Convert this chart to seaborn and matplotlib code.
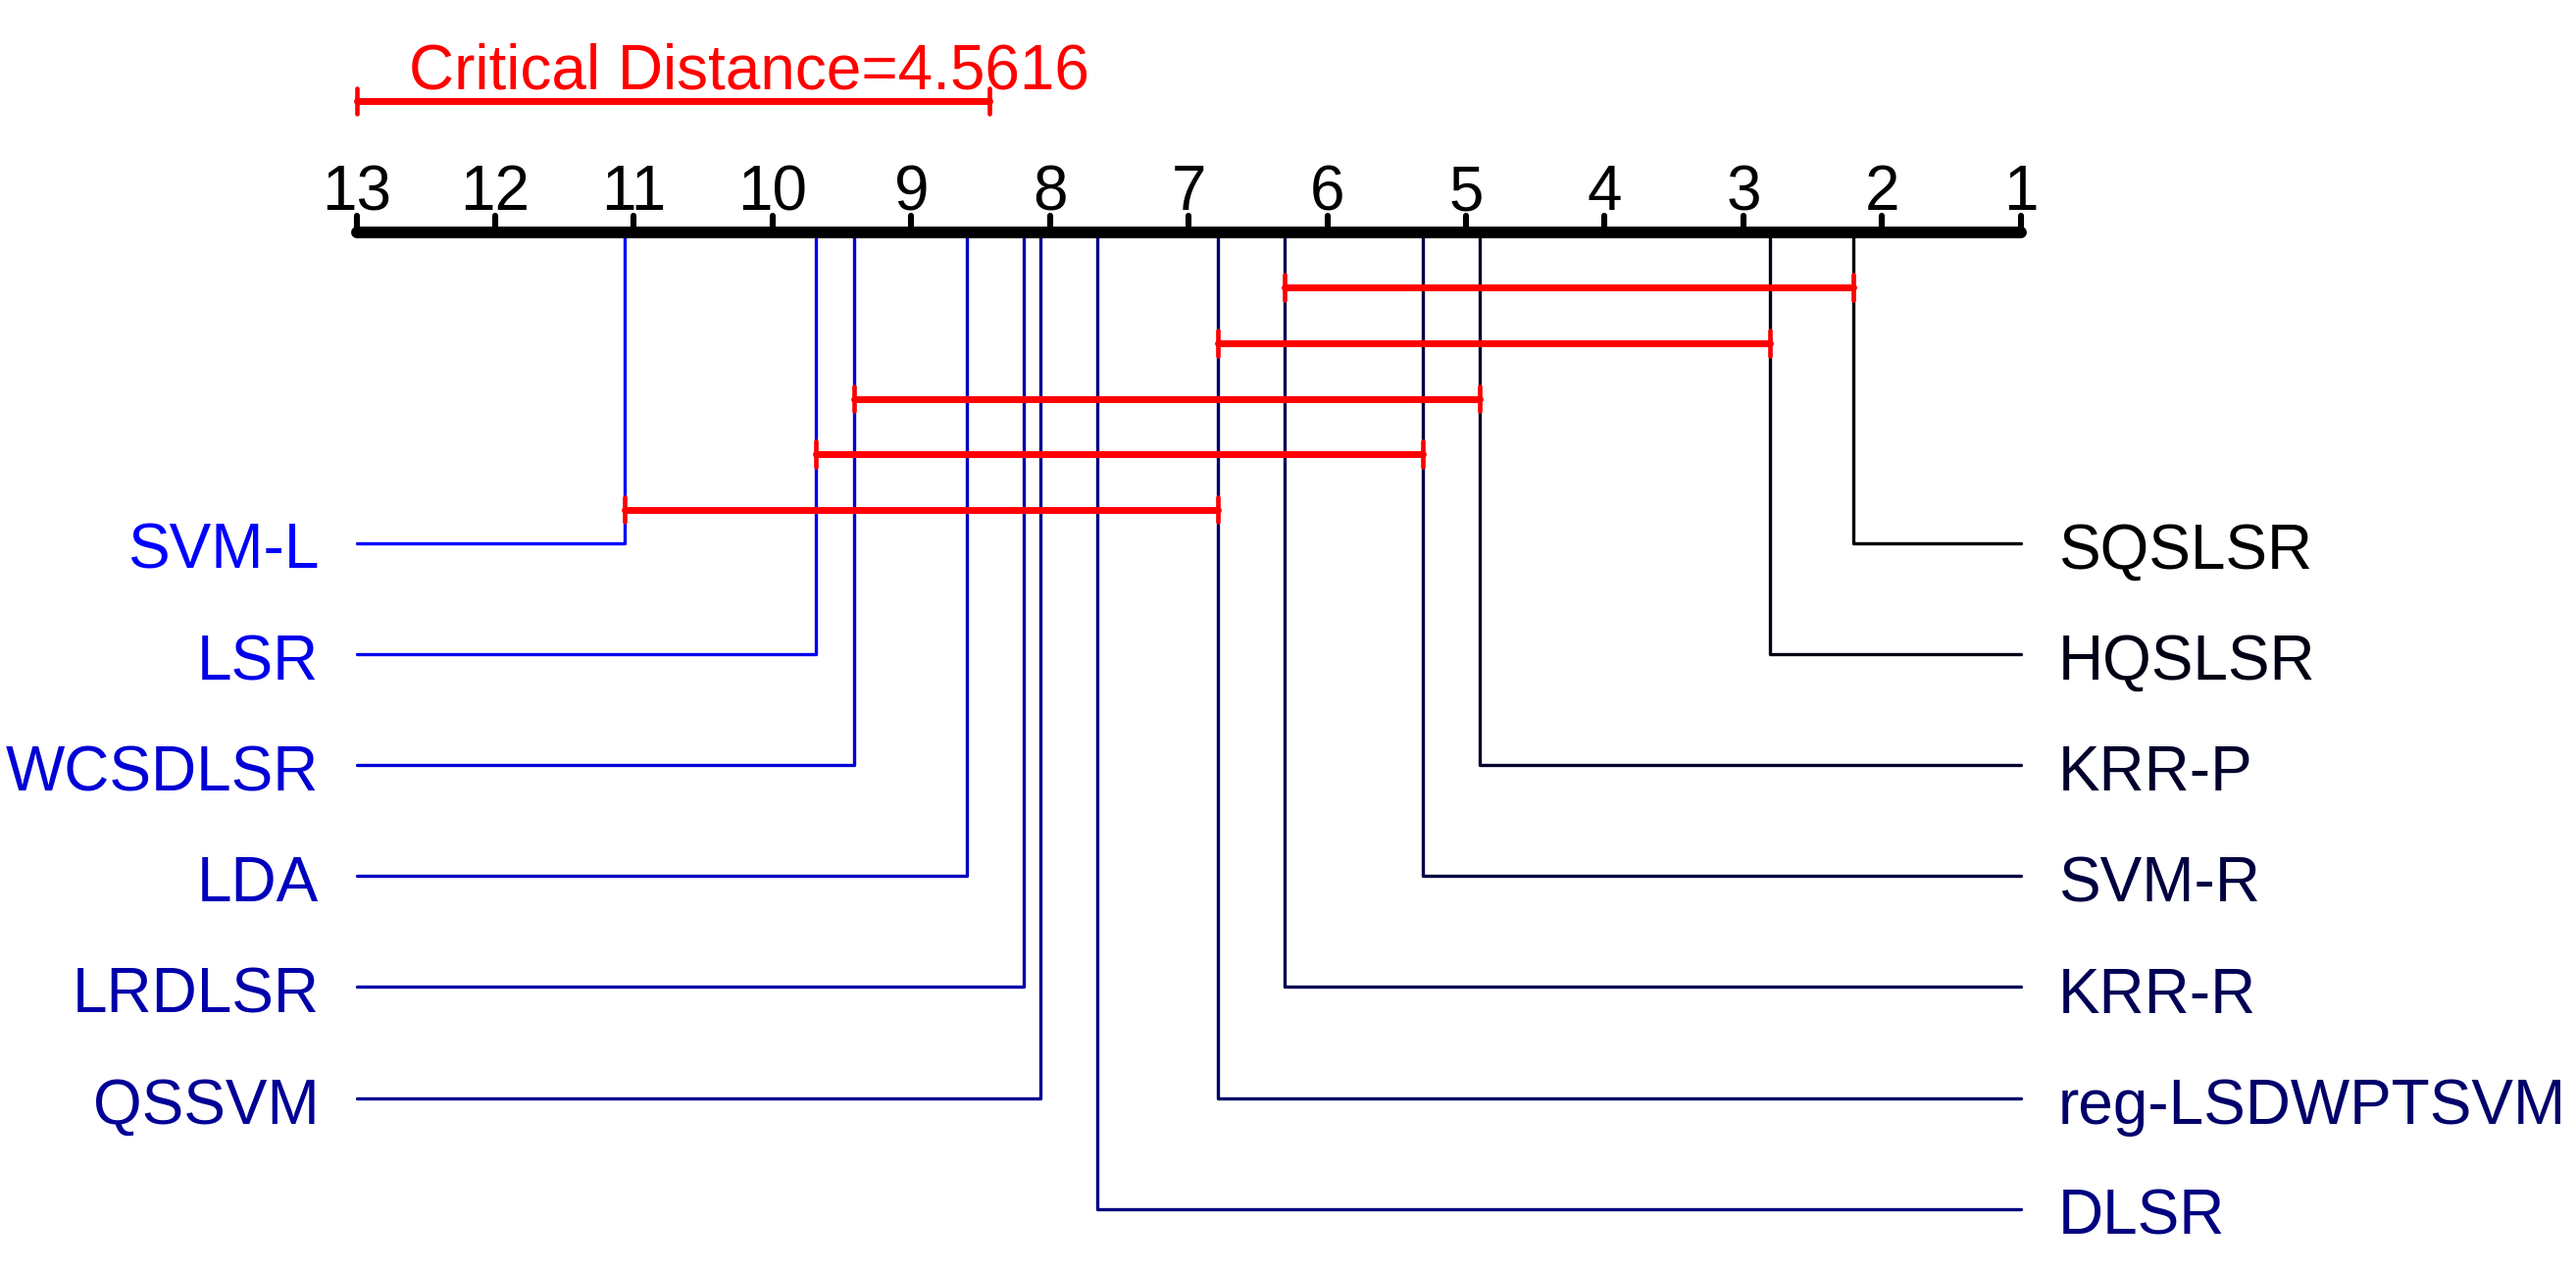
import numpy as np
import pandas as pd
import matplotlib
matplotlib.use("Agg")
import matplotlib.pyplot as plt
from matplotlib import font_manager
import seaborn as sns

# ---------------- data ----------------
methods = ["SQSLSR", "HQSLSR", "KRR-P", "SVM-R", "KRR-R", "reg-LSDWPTSVM", "DLSR",
           "QSSVM", "LRDLSR", "LDA", "WCSDLSR", "LSR", "SVM-L"]
avg_ranks = [2.21, 2.81, 4.90, 5.31, 6.31, 6.79, 7.66, 8.07, 8.19, 8.60, 9.41, 9.69, 11.07]
critical_distance = 4.5616
n_methods = 13
tick_values = list(range(1, 14))
# cliques as (first, last) index into the rank-sorted method list
cliques = [(0, 4), (1, 5), (2, 10), (3, 11), (5, 12)]

# ---------------- style ----------------
sns.set_theme(style="white")
names = {f.name for f in font_manager.fontManager.ttflist}
if "Liberation Sans Narrow" in names:
    FAM = ["Liberation Sans Narrow", "DejaVu Sans"]
    FS = 53.3
else:
    FAM = ["Liberation Sans", "DejaVu Sans"]
    FS = 46
plt.rcParams["font.family"] = FAM

W, H = 2627, 1296
fig = plt.figure(figsize=(W / 100, H / 100), dpi=100)
ax = fig.add_axes([0, 0, 1, 1])
px_per_rank = 141.43
x13 = 363.6
ax.set_xlim(13 + x13 / px_per_rank, 1 - (W - (x13 + 12 * px_per_rank)) / px_per_rank)
ax.set_ylim(774, 0)
ax.axis("off")

cap_shr = FS / 72 * 100 * 0.729 / (W / 1568)  # cap height in shrunk units
base_off = cap_shr / 2 + 1.8

# axis
y_axis = 141.4
ax.plot([n_methods, 1], [y_axis, y_axis], color="black", lw=8.6, solid_capstyle="round", zorder=3)
for t in tick_values:
    ax.plot([t, t], [y_axis, 131.5], color="black", lw=4.4, solid_capstyle="round", zorder=3)
    ax.text(t, 128, str(t), ha="center", va="baseline", fontsize=FS, color="black")

# critical distance bar
y_cd = 61.7
ax.plot([n_methods, n_methods - critical_distance], [y_cd, y_cd], color="red", lw=5)
for xx in [n_methods, n_methods - critical_distance]:
    ax.plot([xx, xx], [y_cd - 7.7, y_cd + 7.7], color="red", lw=3.3)
ax.text(n_methods - 0.38, 54, f"Critical Distance={critical_distance}", ha="left",
        va="baseline", fontsize=FS, color="red")

# method connectors
row0, dy = 330.6, 67.6
gap = 0.27
n_right = 7
for i in range(len(methods)):
    col = (0, 0, i / (n_methods - 1))
    r = avg_ranks[i]
    if i < n_right:
        y = row0 + dy * i
        ax.plot([r, r, 1], [y_axis, y, y], color=col, lw=2.4, zorder=1)
        ax.text(1 - gap, y + base_off, methods[i], ha="left", va="baseline",
                fontsize=FS, color=col)
    else:
        k = n_methods - 1 - i
        y = row0 + dy * k
        ax.plot([r, r, n_methods], [y_axis, y, y], color=col, lw=2.4, zorder=1)
        ax.text(n_methods + gap, y + base_off, methods[i], ha="right", va="baseline",
                fontsize=FS, color=col)

# cliques
clique_y = [175, 209, 242.9, 276.5, 310.4]
for (a, b_), yy in zip(cliques, clique_y):
    xa, xb = avg_ranks[b_], avg_ranks[a]
    ax.plot([xa, xb], [yy, yy], color="red", lw=5, zorder=4)
    for xx in (xa, xb):
        ax.plot([xx, xx], [yy - 7.6, yy + 7.6], color="red", lw=3.3, zorder=4)

fig.savefig("out.png", dpi=100, facecolor="white")
